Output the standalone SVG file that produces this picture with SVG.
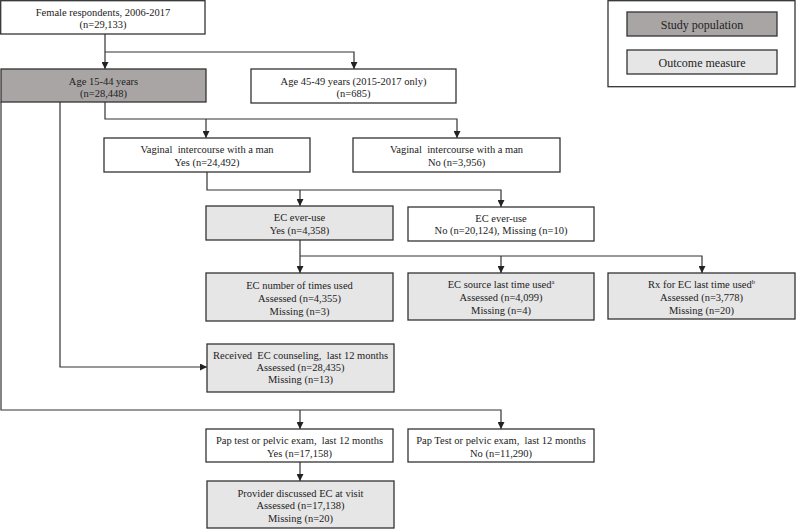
<svg xmlns="http://www.w3.org/2000/svg" width="796" height="529" viewBox="0 0 796 529">
<style>
text{font-family:"Liberation Serif","Times New Roman",serif;font-size:10.5px;fill:#222;text-anchor:middle;white-space:pre}
.lg{font-size:12px}
rect{stroke:#333;stroke-width:1.3}
.w{fill:#fff}
.sp{fill:#a9a5a5}
.om{fill:#e6e6e6}
.c path{fill:none;stroke:#333;stroke-width:1.2}
.sup{font-size:6.5px}
</style>
<defs>
<marker id="ah" markerWidth="7" markerHeight="7" refX="7" refY="3.5" orient="auto" markerUnits="userSpaceOnUse">
<path d="M0,0 L7,3.5 L0,7 z" fill="#222"/>
</marker>
</defs>
<rect width="796" height="529" fill="#fff" style="stroke:none"/>

<g class="c">
<path d="M105,34 V69" marker-end="url(#ah)"/>
<path d="M105,52 H354 V69" marker-end="url(#ah)"/>
<path d="M105,102 V119 H457 V138" marker-end="url(#ah)"/>
<path d="M206,119 V138" marker-end="url(#ah)"/>
<path d="M60,102 V367 H207" marker-end="url(#ah)"/>
<path d="M1,102 V410 H501 V429" marker-end="url(#ah)"/>
<path d="M300,410 V429" marker-end="url(#ah)"/>
<path d="M207,172 V190 H501 V207" marker-end="url(#ah)"/>
<path d="M300,190 V206" marker-end="url(#ah)"/>
<path d="M300,240 V273" marker-end="url(#ah)"/>
<path d="M300,256 H702 V273" marker-end="url(#ah)"/>
<path d="M501,256 V273" marker-end="url(#ah)"/>
<path d="M300,462 V481" marker-end="url(#ah)"/>
</g>

<g id="legend">
<rect class="w" x="608" y="0.7" width="187" height="86"/>
<rect class="sp" x="627" y="12" width="150" height="24"/>
<text class="lg" x="702" y="28.5">Study population</text>
<rect class="om" x="627" y="50" width="150" height="24"/>
<text class="lg" x="702" y="66.5">Outcome measure</text>
</g>

<g id="female">
<rect class="w" x="0.7" y="0.7" width="204.3" height="33.3"/>
<text x="103" y="15.5">Female respondents, 2006-2017</text>
<text x="103" y="27.5">(n=29,133)</text>
</g>

<g id="age1544">
<rect class="sp" x="1" y="69" width="205" height="33"/>
<text x="103.5" y="85">Age 15-44 years</text>
<text x="103.5" y="97">(n=28,448)</text>
</g>

<g id="age4549">
<rect class="w" x="251" y="69" width="205" height="34"/>
<text x="353.5" y="85">Age 45-49 years (2015-2017 only)</text>
<text x="353.5" y="97">(n=685)</text>
</g>

<g id="vagyes">
<rect class="w" x="104" y="138" width="206" height="34"/>
<text x="207" y="153">Vaginal  intercourse with a man</text>
<text x="207" y="166">Yes (n=24,492)</text>
</g>

<g id="vagno">
<rect class="w" x="353" y="138" width="207" height="34"/>
<text x="456.5" y="153">Vaginal  intercourse with a man</text>
<text x="456.5" y="166">No (n=3,956)</text>
</g>

<g id="ecyes">
<rect class="om" x="206" y="206" width="187" height="34"/>
<text x="299.5" y="221">EC ever-use</text>
<text x="299.5" y="233.5">Yes (n=4,358)</text>
</g>

<g id="ecno">
<rect class="w" x="408" y="207" width="186" height="34"/>
<text x="501" y="221.5">EC ever-use</text>
<text x="501" y="234">No (n=20,124), Missing (n=10)</text>
</g>

<g id="ecnum">
<rect class="om" x="206" y="273" width="187" height="48"/>
<text x="299.5" y="289">EC number of times used</text>
<text x="299.5" y="301.5">Assessed (n=4,355)</text>
<text x="299.5" y="314.5">Missing (n=3)</text>
</g>

<g id="ecsource">
<rect class="om" x="408" y="273" width="186" height="47"/>
<text x="501" y="288">EC source last time used<tspan class="sup" dy="-4">a</tspan></text>
<text x="501" y="301">Assessed (n=4,099)</text>
<text x="501" y="314">Missing (n=4)</text>
</g>

<g id="rx">
<rect class="om" x="608" y="273" width="187" height="46"/>
<text x="701.5" y="288">Rx for EC last time used<tspan class="sup" dy="-4">b</tspan></text>
<text x="701.5" y="301">Assessed (n=3,778)</text>
<text x="701.5" y="314">Missing (n=20)</text>
</g>

<g id="counsel">
<rect class="om" x="207" y="344" width="187" height="48"/>
<text x="300.5" y="359">Received  EC counseling,  last 12 months</text>
<text x="300.5" y="371">Assessed (n=28,435)</text>
<text x="300.5" y="383">Missing (n=13)</text>
</g>

<g id="papyes">
<rect class="w" x="206" y="429" width="187" height="33"/>
<text x="299.5" y="444">Pap test or pelvic exam,  last 12 months</text>
<text x="299.5" y="456.5">Yes (n=17,158)</text>
</g>

<g id="papno">
<rect class="w" x="408" y="429" width="186" height="33"/>
<text x="501" y="444">Pap Test or pelvic exam,  last 12 months</text>
<text x="501" y="456.5">No (n=11,290)</text>
</g>

<g id="provider">
<rect class="om" x="207" y="481" width="187" height="47"/>
<text x="300.5" y="496.5">Provider discussed EC at visit</text>
<text x="300.5" y="509">Assessed (n=17,138)</text>
<text x="300.5" y="521.5">Missing (n=20)</text>
</g>
</svg>
